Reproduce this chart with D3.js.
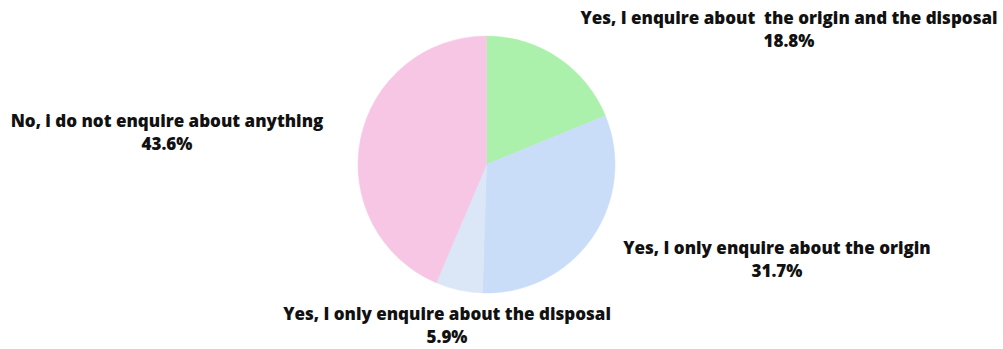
<!DOCTYPE html>
<html>
<head>
<meta charset="utf-8">
<script src="https://cdn.jsdelivr.net/npm/d3@7"></script>
<style>
  html, body { margin: 0; padding: 0; background: #ffffff; }
  svg text { font-family: "Open Sans", "DejaVu Sans", sans-serif; font-weight: 800; fill: #111111; }
</style>
</head>
<body>
<svg id="chart" width="1003" height="349"></svg>
<script>
// Survey answers, clockwise from 12 o'clock
const answers = [
  "Yes, I enquire about\u00a0 the origin and the disposal",
  "Yes, I only enquire about the origin",
  "Yes, I only enquire about the disposal",
  "No, i do not enquire about anything"
];
const shares = [18.8, 31.7, 5.9, 43.6];
const sliceColors = ["#abf0ab", "#c9ddf8", "#dbe6f6", "#f7c6e5"];

// Where each two-line label sits (centre x, first baseline y)
const labelX = [789, 777, 447, 167];
const labelY = [24, 254, 320, 127];

const svg = d3.select("#chart");
const cx = 486.5, cy = 164.5, radius = 128.5;

const pie = d3.pie().sort(null).value(d => d.value);
const arc = d3.arc().innerRadius(0).outerRadius(radius);

const data = answers.map((a, i) => ({ label: a, value: shares[i], color: sliceColors[i], lx: labelX[i], ly: labelY[i] }));

const g = svg.append("g").attr("transform", `translate(${cx},${cy})`);
g.selectAll("path")
  .data(pie(data))
  .join("path")
  .attr("d", arc)
  .attr("fill", d => d.data.color)
  .attr("stroke", d => d.data.color)
  .attr("stroke-width", 0.5);

const labels = svg.selectAll("text.lbl")
  .data(data)
  .join("text")
  .attr("class", "lbl")
  .attr("text-anchor", "middle")
  .attr("font-size", 17);

labels.append("tspan")
  .attr("x", d => d.lx)
  .attr("y", d => d.ly)
  .text(d => d.label);
labels.append("tspan")
  .attr("x", d => d.lx)
  .attr("y", d => d.ly + 23)
  .text(d => d3.format(".1f")(d.value) + "%");
</script>
</body>
</html>
